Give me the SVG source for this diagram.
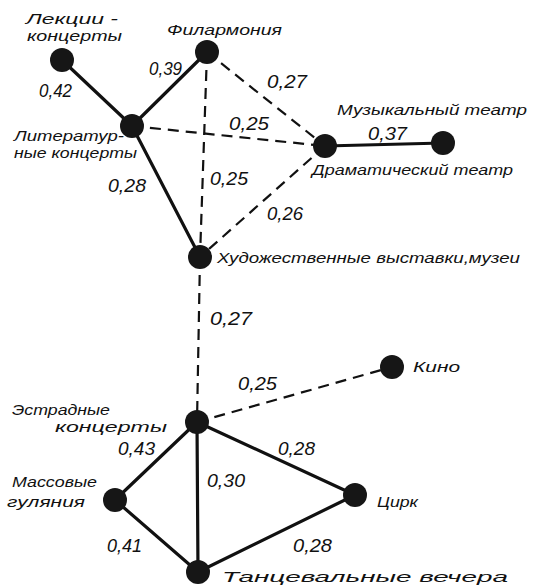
<svg xmlns="http://www.w3.org/2000/svg" width="534" height="588" viewBox="0 0 534 588">
<style>
.s{stroke:#111;stroke-width:3.2;fill:none;stroke-linecap:round}
.d{stroke:#111;stroke-width:2.2;fill:none;stroke-dasharray:11 7}
.n{fill:#161616}
text{font-family:"Liberation Sans","DejaVu Sans",sans-serif;font-style:italic;font-size:15px;fill:#111}
.w{font-size:19px}
</style>
<rect width="534" height="588" fill="#fff"/>
<g id="connectors">
<line class="s" x1="62" y1="60" x2="132" y2="126"/>
<line class="s" x1="132" y1="126" x2="207" y2="52"/>
<line class="s" x1="132" y1="126" x2="200" y2="257"/>
<line class="s" x1="325" y1="146" x2="443" y2="143"/>
<line class="s" x1="197" y1="422" x2="115" y2="500"/>
<line class="s" x1="197" y1="422" x2="198" y2="572"/>
<line class="s" x1="197" y1="422" x2="355" y2="495"/>
<line class="s" x1="115" y1="500" x2="198" y2="572"/>
<line class="s" x1="355" y1="495" x2="198" y2="572"/>
<line class="d" x1="207" y1="52" x2="325" y2="146"/>
<line class="d" x1="132" y1="126" x2="325" y2="146"/>
<line class="d" x1="207" y1="52" x2="200" y2="257"/>
<line class="d" x1="325" y1="146" x2="200" y2="257"/>
<line class="d" x1="200" y1="257" x2="197" y2="422"/>
<line class="d" x1="197" y1="422" x2="392" y2="367"/>
</g>
<g id="lekcii"><circle class="n" cx="62" cy="60" r="12"/><text x="26" y="24" textLength="92" lengthAdjust="spacingAndGlyphs">Лекции -</text><text x="27" y="41" textLength="95" lengthAdjust="spacingAndGlyphs">концерты</text></g>
<g id="filarmonia"><circle class="n" cx="207" cy="52" r="12"/><text x="167" y="35" textLength="115" lengthAdjust="spacingAndGlyphs">Филармония</text></g>
<g id="literaturnye"><circle class="n" cx="132" cy="126" r="12"/><text x="14" y="141" textLength="110" lengthAdjust="spacingAndGlyphs">Литератур-</text><text x="14" y="158" textLength="123" lengthAdjust="spacingAndGlyphs">ные концерты</text></g>
<g id="dramaticheskiy"><circle class="n" cx="325" cy="146" r="12"/><text x="312" y="175" textLength="201" lengthAdjust="spacingAndGlyphs">Драматический театр</text></g>
<g id="muzykalny"><circle class="n" cx="443" cy="143" r="12"/><text x="337" y="115" textLength="190" lengthAdjust="spacingAndGlyphs">Музыкальный театр</text></g>
<g id="khudozhestvennye"><circle class="n" cx="200" cy="257" r="12"/><text x="217" y="263" textLength="303" lengthAdjust="spacingAndGlyphs">Художественные выставки,музеи</text></g>
<g id="kino"><circle class="n" cx="392" cy="367" r="12"/><text x="413" y="372" textLength="47" lengthAdjust="spacingAndGlyphs">Кино</text></g>
<g id="estradnye"><circle class="n" cx="197" cy="422" r="12"/><text x="12" y="415" textLength="98" lengthAdjust="spacingAndGlyphs">Эстрадные</text><text x="55" y="432" textLength="112" lengthAdjust="spacingAndGlyphs">концерты</text></g>
<g id="massovye"><circle class="n" cx="115" cy="500" r="12"/><text x="12" y="487" textLength="85" lengthAdjust="spacingAndGlyphs">Массовые</text><text x="7" y="507" textLength="78" lengthAdjust="spacingAndGlyphs">гуляния</text></g>
<g id="tsirk"><circle class="n" cx="355" cy="495" r="12"/><text x="377" y="507" textLength="41" lengthAdjust="spacingAndGlyphs">Цирк</text></g>
<g id="tantsevalnye"><circle class="n" cx="198" cy="572" r="12"/><text x="222" y="582" textLength="286" lengthAdjust="spacingAndGlyphs">Танцевальные вечера</text></g>
<g id="weights">
<text class="w" x="39" y="97" textLength="33" lengthAdjust="spacingAndGlyphs">0,42</text>
<text class="w" x="149" y="75" textLength="33" lengthAdjust="spacingAndGlyphs">0,39</text>
<text class="w" x="267" y="88" textLength="40" lengthAdjust="spacingAndGlyphs">0,27</text>
<text class="w" x="229" y="130" textLength="40" lengthAdjust="spacingAndGlyphs">0,25</text>
<text class="w" x="368" y="140" textLength="39" lengthAdjust="spacingAndGlyphs">0,37</text>
<text class="w" x="108" y="192" textLength="38" lengthAdjust="spacingAndGlyphs">0,28</text>
<text class="w" x="210" y="185" textLength="38" lengthAdjust="spacingAndGlyphs">0,25</text>
<text class="w" x="267" y="220" textLength="36" lengthAdjust="spacingAndGlyphs">0,26</text>
<text class="w" x="210" y="325" textLength="42" lengthAdjust="spacingAndGlyphs">0,27</text>
<text class="w" x="238" y="390" textLength="39" lengthAdjust="spacingAndGlyphs">0,25</text>
<text class="w" x="118" y="455" textLength="37" lengthAdjust="spacingAndGlyphs">0,43</text>
<text class="w" x="278" y="455" textLength="37" lengthAdjust="spacingAndGlyphs">0,28</text>
<text class="w" x="207" y="487" textLength="38" lengthAdjust="spacingAndGlyphs">0,30</text>
<text class="w" x="107" y="552" textLength="35" lengthAdjust="spacingAndGlyphs">0,41</text>
<text class="w" x="293" y="552" textLength="39" lengthAdjust="spacingAndGlyphs">0,28</text>
</g>
</svg>
